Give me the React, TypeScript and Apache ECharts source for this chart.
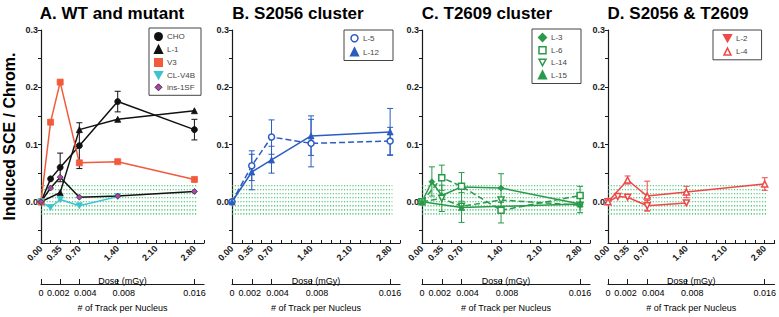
import React, { useEffect, useRef } from "react";
import * as echarts from "echarts";

// ---------- data ----------
const DOSE_LABELS = [0, 0.35, 0.7, 1.4, 2.1, 2.8];
const DOSE_TICKS = [0, 0.175, 0.35, 0.525, 0.7, 0.875, 1.05, 1.225, 1.4, 1.575, 1.75, 1.925, 2.1, 2.275, 2.45, 2.625, 2.8, 2.975];
const TRACK_TICKS = [0, 0.002, 0.004, 0.008, 0.016];
const Y_TICKS = [-0.05, 0, 0.05, 0.1, 0.15, 0.2, 0.25, 0.3];
const Y_LABELS = [0, 0.1, 0.2, 0.3];
const BAND_LEVELS = [-0.021, -0.014, -0.007, 0, 0.007, 0.014, 0.021, 0.028];
const BAND_X = [0, 2.84];

const TITLES = ["A. WT and mutant", "B. S2056 cluster", "C. T2609 cluster", "D. S2056 & T2609"];

// Panel A
const CHO = [[0, 0], [0.175, 0.04], [0.35, 0.06], [0.7, 0.098], [1.4, 0.175], [2.8, 0.126]];
const CHO_ERR = [[0.35, 0.035, 0.085], [0.7, 0.058, 0.138], [1.4, 0.157, 0.193], [2.8, 0.108, 0.144]];
const L1 = [[0, 0], [0.35, 0.016], [0.7, 0.126], [1.4, 0.144], [2.8, 0.159]];
const V3 = [[0, 0], [0.175, 0.139], [0.35, 0.209], [0.7, 0.068], [1.4, 0.07], [2.8, 0.039]];
const CLV4B = [[0, 0], [0.175, -0.01], [0.35, 0.004], [0.7, -0.007], [1.4, 0.009]];
const INS1SF = [[0, 0], [0.175, 0.024], [0.35, 0.043], [0.7, 0.008], [1.4, 0.01], [2.8, 0.018]];

// Panel B
const L5 = [[0, 0], [0.35, 0.063], [0.7, 0.113], [1.4, 0.102], [2.8, 0.106]];
const L5_ERR = [[0.35, 0.037, 0.089], [0.7, 0.083, 0.143], [1.4, 0.061, 0.144], [2.8, 0.082, 0.13]];
const L12 = [[0, 0], [0.35, 0.052], [0.7, 0.073], [1.4, 0.115], [2.8, 0.122]];
const L12_ERR = [[0.35, 0.021, 0.083], [0.7, 0.05, 0.097], [1.4, 0.081, 0.15], [2.8, 0.081, 0.163]];

// Panel C
const L3 = [[0, 0], [0.175, 0.035], [0.35, 0.011], [0.7, 0.026], [1.4, 0.024], [2.8, -0.004]];
const L3_ERR = [[0.175, 0.01, 0.061], [0.7, 0.001, 0.051], [1.4, -0.001, 0.049], [2.8, -0.019, 0.011]];
const L6 = [[0, 0], [0.35, 0.042], [0.7, 0.027], [1.4, -0.015], [2.8, 0.011]];
const L6_ERR = [[0.35, 0.02, 0.064], [1.4, -0.037, 0.007], [2.8, -0.005, 0.027]];
const L14 = [[0, 0], [0.35, 0.006], [0.7, -0.008], [1.4, 0.003], [2.8, -0.006]];
const L14_ERR = [[0.35, -0.017, 0.029]];
const L15 = [[0, 0], [0.7, -0.01], [2.8, -0.004]];
const L15_ERR = [[0.7, -0.036, 0.016]];

// Panel D
const L2 = [[0, 0], [0.175, 0.009], [0.35, 0.008], [0.7, -0.007], [1.4, -0.002]];
const L2_ERR = [[0.7, -0.016, 0.002]];
const L4 = [[0, 0], [0.35, 0.038], [0.7, 0.01], [1.4, 0.017], [2.8, 0.031]];
const L4_ERR = [[0.35, 0.031, 0.045], [0.7, -0.016, 0.036], [1.4, 0.007, 0.027], [2.8, 0.02, 0.042]];

// ---------- styles ----------
const FONT = '"Liberation Sans", Arial, sans-serif';
const INK = "#1a1a1a";
const BLACK = "#111111";
const RED_A = "#f25a3c";
const CYAN = "#3cc4cc";
const PURPLE = "#b040b0";
const BLUE = "#2b5cc0";
const GREEN = "#2a9a4a";
const RED_D = "#f04848";
const BAND = "#2fb860";
const DOWN_TRI = "path://M0,0L10,0L5,9Z";

const GRID_LEFT = [36, 232, 422, 608];
const GRID_W = 168;
const TITLE_X = [112, 298, 487, 678];

type Opt = { open?: boolean; dashed?: boolean; rotate?: number; lineColor?: string; fill?: string; border?: string };

function lineSeries(name: string, data: number[][], g: number, color: string, symbol: string, o: Opt = {}) {
  return {
    type: "line",
    name,
    data,
    xAxisIndex: 2 * g,
    yAxisIndex: g,
    symbol,
    symbolSize: 6,
    symbolRotate: o.rotate || 0,
    lineStyle: { color: o.lineColor || color, width: 1.5, type: o.dashed ? "dashed" : "solid" },
    itemStyle: {
      color: o.open ? "#ffffff" : o.fill || color,
      borderColor: o.border || color,
      borderWidth: o.open ? 1.5 : 0.8,
    },
    z: 4,
  };
}

function errSeries(name: string, data: number[][], g: number, color: string) {
  return {
    type: "custom",
    name,
    data,
    xAxisIndex: 2 * g,
    yAxisIndex: g,
    encode: { x: 0, y: [1, 2] },
    silent: true,
    z: 3,
    renderItem: (_p: any, api: any) => {
      const x = api.value(0);
      const a = api.coord([x, api.value(1)]);
      const b = api.coord([x, api.value(2)]);
      const w = 3;
      const style = { stroke: color, lineWidth: 1 };
      return {
        type: "group",
        children: [
          { type: "line", shape: { x1: a[0], y1: a[1], x2: b[0], y2: b[1] }, style },
          { type: "line", shape: { x1: a[0] - w, y1: a[1], x2: a[0] + w, y2: a[1] }, style },
          { type: "line", shape: { x1: b[0] - w, y1: b[1], x2: b[0] + w, y2: b[1] }, style },
        ],
      };
    },
  };
}

function bandSeries(g: number) {
  return {
    type: "custom",
    name: "band" + g,
    data: BAND_LEVELS.map((v) => [BAND_X[0], v, BAND_X[1]]),
    xAxisIndex: 2 * g,
    yAxisIndex: g,
    encode: { x: [0, 2], y: 1 },
    silent: true,
    z: 1,
    renderItem: (_p: any, api: any) => {
      const a = api.coord([api.value(0), api.value(1)]);
      const b = api.coord([api.value(2), api.value(1)]);
      return {
        type: "line",
        shape: { x1: a[0], y1: a[1], x2: b[0], y2: b[1] },
        style: { stroke: BAND, lineWidth: 1.2, lineDash: [1.2, 1.6] },
      };
    },
  };
}

function legendBox(items: any[], left: number, top: number, padding: number[], gap = 4) {
  return {
    data: items,
    left,
    top,
    orient: "vertical",
    itemWidth: 7,
    itemHeight: 7,
    itemGap: gap,
    padding,
    borderColor: "#444",
    borderWidth: 1,
    backgroundColor: "#fff",
    selectedMode: false,
    textStyle: { fontSize: 8, color: "#444", fontFamily: FONT },
  };
}

const trackLabel = (v: number) => {
  if (v === 0.002) return `{l|${v}}`;
  if (v === 0.004 || v === 0.008) return `{r|${v}}`;
  return String(v);
};

export default function App() {
  const ref = useRef<HTMLDivElement>(null);
  useEffect(() => {
    if (!ref.current) return;
    const chart = echarts.init(ref.current, undefined, { renderer: "svg" });

    const grids = GRID_LEFT.map((l) => ({ left: l, width: GRID_W, top: 30, height: 223 }));
    const xAxes: any[] = [];
    const yAxes: any[] = [];
    GRID_LEFT.forEach((_l, g) => {
      xAxes.push({
        type: "value",
        gridIndex: g,
        min: 0,
        max: 2.975,
        position: "bottom",
        axisLine: { show: true, onZero: false, lineStyle: { color: INK, width: 1.2 } },
        axisTick: { show: true, inside: true, length: 3, customValues: DOSE_TICKS, lineStyle: { color: INK } },
        axisLabel: {
          customValues: DOSE_LABELS,
          rotate: 45,
          margin: 4,
          formatter: (v: number) => v.toFixed(2),
          fontSize: 9,
          fontWeight: "bold",
          color: INK,
          fontFamily: FONT,
        },
        splitLine: { show: false },
        name: "Dose (mGy)",
        nameLocation: "middle",
        nameGap: 33,
        nameMoveOverlap: false,
        nameTextStyle: { fontSize: 9, color: "#000", fontFamily: FONT },
      });
      xAxes.push({
        type: "value",
        gridIndex: g,
        min: 0,
        max: 0.017,
        position: "bottom",
        offset: 41,
        axisLine: { show: true, onZero: false, lineStyle: { color: INK, width: 1.2 } },
        axisTick: { show: true, inside: true, length: 5, customValues: TRACK_TICKS, lineStyle: { color: INK } },
        axisLabel: {
          customValues: TRACK_TICKS,
          margin: 4,
          formatter: trackLabel,
          fontSize: 9,
          color: "#000",
          fontFamily: FONT,
          rich: {
            l: { fontSize: 9, fontFamily: FONT, color: "#000", padding: [0, 4, 0, 0] },
            r: { fontSize: 9, fontFamily: FONT, color: "#000", padding: [0, 0, 0, 12] },
          },
        },
        splitLine: { show: false },
        name: "# of Track per Nucleus",
        nameLocation: "middle",
        nameGap: 19,
        nameMoveOverlap: false,
        nameTextStyle: { fontSize: 9, color: "#000", fontFamily: FONT },
      });
      yAxes.push({
        type: "value",
        gridIndex: g,
        min: -0.072,
        max: 0.3,
        axisLine: { show: true, onZero: false, lineStyle: { color: INK, width: 1.2 } },
        axisTick: { show: true, length: 3, customValues: Y_TICKS, lineStyle: { color: INK } },
        axisLabel: {
          customValues: Y_LABELS,
          margin: 3,
          formatter: (v: number) => v.toFixed(1),
          fontSize: 9,
          fontWeight: "bold",
          color: INK,
          fontFamily: FONT,
        },
        splitLine: { show: false },
        ...(g === 0
          ? {
              name: "Induced SCE / Chrom.",
              nameLocation: "middle",
              nameGap: 24,
              nameRotate: 90,
              nameMoveOverlap: false,
              nameTextStyle: { fontSize: 16, fontWeight: "bold", color: "#000", fontFamily: FONT },
            }
          : {}),
      });
    });

    const series: any[] = [
      bandSeries(0),
      bandSeries(1),
      bandSeries(2),
      bandSeries(3),
      // A
      errSeries("CHO err", CHO_ERR, 0, BLACK),
      lineSeries("CHO", CHO, 0, BLACK, "circle"),
      lineSeries("L-1", L1, 0, BLACK, "triangle"),
      lineSeries("V3", V3, 0, RED_A, "rect"),
      lineSeries("CL-V4B", CLV4B, 0, CYAN, "triangle", { rotate: 180 }),
      lineSeries("ins-1SF", INS1SF, 0, PURPLE, "diamond", { lineColor: BLACK, border: "#333" }),
      // B
      errSeries("L-5 err", L5_ERR, 1, BLUE),
      errSeries("L-12 err", L12_ERR, 1, BLUE),
      lineSeries("L-5", L5, 1, BLUE, "circle", { open: true, dashed: true }),
      lineSeries("L-12", L12, 1, BLUE, "triangle"),
      // C
      errSeries("L-3 err", L3_ERR, 2, GREEN),
      errSeries("L-6 err", L6_ERR, 2, GREEN),
      errSeries("L-14 err", L14_ERR, 2, GREEN),
      errSeries("L-15 err", L15_ERR, 2, GREEN),
      lineSeries("L-3", L3, 2, GREEN, "diamond"),
      lineSeries("L-6", L6, 2, GREEN, "rect", { open: true, dashed: true }),
      lineSeries("L-14", L14, 2, GREEN, "triangle", { open: true, dashed: true, rotate: 180 }),
      lineSeries("L-15", L15, 2, GREEN, "triangle"),
      // D
      errSeries("L-2 err", L2_ERR, 3, RED_D),
      errSeries("L-4 err", L4_ERR, 3, RED_D),
      lineSeries("L-2", L2, 3, RED_D, "triangle", { open: true, rotate: 180 }),
      lineSeries("L-4", L4, 3, RED_D, "triangle", { open: true }),
    ];

    const legends = [
      legendBox(
        [
          { name: "CHO", icon: "circle", itemStyle: { color: BLACK } },
          { name: "L-1", icon: "triangle", itemStyle: { color: BLACK } },
          { name: "V3", icon: "rect", itemStyle: { color: RED_A } },
          { name: "CL-V4B", icon: DOWN_TRI, itemStyle: { color: CYAN } },
          { name: "ins-1SF", icon: "diamond", itemStyle: { color: PURPLE, borderColor: "#333", borderWidth: 1 } },
        ],
        149,
        28,
        [4, 6, 4, 5]
      ),
      legendBox(
        [
          { name: "L-5", icon: "circle", itemStyle: { color: "#fff", borderColor: BLUE, borderWidth: 1.5 } },
          { name: "L-12", icon: "triangle", itemStyle: { color: BLUE } },
        ],
        344,
        30,
        [4, 14, 4, 6],
        5
      ),
      legendBox(
        [
          { name: "L-3", icon: "diamond", itemStyle: { color: GREEN } },
          { name: "L-6", icon: "rect", itemStyle: { color: "#fff", borderColor: GREEN, borderWidth: 1.5 } },
          { name: "L-14", icon: DOWN_TRI, itemStyle: { color: "#fff", borderColor: GREEN, borderWidth: 1.5 } },
          { name: "L-15", icon: "triangle", itemStyle: { color: GREEN } },
        ],
        532,
        29,
        [4, 14, 4, 6]
      ),
      legendBox(
        [
          { name: "L-2", icon: DOWN_TRI, itemStyle: { color: RED_D } },
          { name: "L-4", icon: "triangle", itemStyle: { color: "#fff", borderColor: RED_D, borderWidth: 1.5 } },
        ],
        713,
        30,
        [4, 14, 4, 10],
        5
      ),
    ];

    chart.setOption({
      animation: false,
      backgroundColor: "#ffffff",
      textStyle: { fontFamily: FONT },
      graphic: TITLES.map((t, i) => ({
        type: "text",
        x: TITLE_X[i],
        y: 13,
        style: {
          text: t,
          fontSize: 17,
          fontWeight: "bold",
          fontFamily: FONT,
          fill: "#000",
          align: "center",
          verticalAlign: "middle",
        },
      })),
      grid: grids,
      xAxis: xAxes,
      yAxis: yAxes,
      legend: legends,
      series,
    });
    return () => chart.dispose();
  }, []);
  return (
    <div
      ref={ref}
      style={{ position: "fixed", left: 0, top: 0, width: 779, height: 317, background: "#fff" }}
    />
  );
}
